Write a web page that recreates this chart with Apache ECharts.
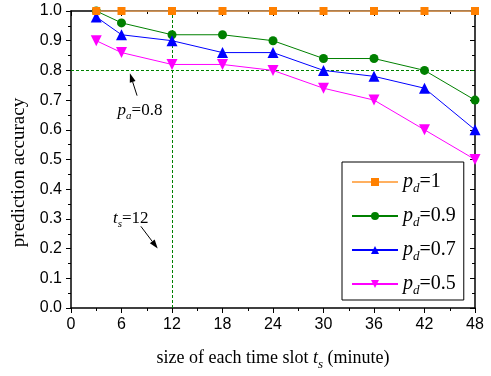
<!DOCTYPE html>
<html><head><meta charset="utf-8">
<script src="https://cdn.jsdelivr.net/npm/echarts@6/dist/echarts.min.js"></script>
<style>html,body{margin:0;padding:0;background:#fff}#c{width:491px;height:376px}</style>
</head><body><div id="c"></div>
<script>
const xValues = [3, 6, 12, 18, 24, 30, 36, 42, 48];
const pd1  = [1.0, 1.0, 1.0, 1.0, 1.0, 1.0, 1.0, 1.0, 1.0];
const pd09 = [1.0, 0.96, 0.92, 0.92, 0.90, 0.84, 0.84, 0.80, 0.70];
const pd07 = [0.98, 0.92, 0.90, 0.86, 0.86, 0.80, 0.78, 0.74, 0.60];
const pd05 = [0.90, 0.86, 0.82, 0.82, 0.80, 0.74, 0.70, 0.60, 0.50];
const seriesNames = ['1', '0.9', '0.7', '0.5'];
const xTicks = [0, 6, 12, 18, 24, 30, 36, 42, 48];
const yTicks = [0, 0.1, 0.2, 0.3, 0.4, 0.5, 0.6, 0.7, 0.8, 0.9, 1.0];
const paValue = 0.8, tsValue = 12;

const serif = '"Liberation Serif", "Times New Roman", serif';
const sans = '"Liberation Sans", Arial, sans-serif';
const pair = (ys) => xValues.map((x, i) => [x, ys[i]]);

const richP = {
  i: {fontFamily: serif, fontStyle: 'italic', fontSize: 20, color: '#000'},
  s: {fontFamily: serif, fontStyle: 'italic', fontSize: 13, color: '#000', padding: [13, 0, 0, 0]},
  n: {fontFamily: serif, fontSize: 20, color: '#000'}
};

const chart = echarts.init(document.getElementById('c'), null, {renderer: 'canvas'});
const axisLine = {show: true, onZero: false, lineStyle: {color: '#000', width: 1.5}};
const mk = (name, color, symbol, data, extra) => Object.assign({
  name: name, type: 'line', data: data, symbol: symbol, symbolSize: symbol === 'triangle' ? 11 : 9,
  showSymbol: true, color: color, lineStyle: {width: 1, color: color}, itemStyle: {color: color},
  z: 5, animation: false
}, extra || {});

const option = {
  animation: false,
  grid: {left: 71, right: 16, top: 11, bottom: 66, containLabel: false},
  legend: {
    data: seriesNames.map(n => 'p' + n),
    orient: 'vertical', left: 342, top: 162, width: 121,
    itemWidth: 46, itemHeight: 10, itemGap: 11,
    padding: [10, 8, 3, 9],
    borderColor: '#000', borderWidth: 1, backgroundColor: '#fff',
    formatter: (n) => '{i|p}{s|d}{n|=' + n.slice(1) + '}',
    textStyle: {rich: richP, padding: [0, 0, 0, 0]}
  },
  xAxis: [{
    type: 'value', min: 0, max: 48, interval: 6,
    axisLine: axisLine,
    axisTick: {show: true, length: 5, inside: false, lineStyle: {color: '#000'}},
    minorTick: {show: true, splitNumber: 2, length: 3, lineStyle: {color: '#000'}},
    splitLine: {show: false},
    axisLabel: {fontFamily: sans, fontSize: 16, color: '#000', margin: 9},
    name: '{a|size of each time slot }{i|t}{s|s}{a| (minute)}',
    nameLocation: 'middle', nameGap: 38,
    nameTextStyle: {rich: {
      a: {fontFamily: serif, fontSize: 18, color: '#000'},
      i: {fontFamily: serif, fontStyle: 'italic', fontSize: 18, color: '#000'},
      s: {fontFamily: serif, fontStyle: 'italic', fontSize: 13, color: '#000', padding: [12, 0, 0, 0]}
    }}
  }, {
    type: 'value', position: 'top', min: 0, max: 48, interval: 6,
    axisLine: axisLine,
    axisTick: {show: true, inside: true, length: 5, lineStyle: {color: '#000'}},
    minorTick: {show: true, splitNumber: 2, length: 3, lineStyle: {color: '#000'}},
    axisLabel: {show: false}, splitLine: {show: false}
  }],
  yAxis: [{
    type: 'value', min: 0, max: 1.0, interval: 0.1,
    axisLine: axisLine,
    axisTick: {show: true, length: 5, lineStyle: {color: '#000'}},
    minorTick: {show: true, splitNumber: 2, length: 3, lineStyle: {color: '#000'}},
    splitLine: {show: false},
    axisLabel: {fontFamily: sans, fontSize: 16, color: '#000', margin: 9, formatter: v => v.toFixed(1)},
    name: 'prediction accuracy', nameLocation: 'middle', nameGap: 38,
    nameTextStyle: {fontFamily: serif, fontSize: 19, color: '#000', padding: [0, 26, 0, 0]}
  }, {
    type: 'value', position: 'right', min: 0, max: 1.0, interval: 0.1,
    axisLine: axisLine,
    axisTick: {show: true, inside: true, length: 5, lineStyle: {color: '#000'}},
    minorTick: {show: true, splitNumber: 2, length: 3, lineStyle: {color: '#000'}},
    axisLabel: {show: false}, splitLine: {show: false}
  }],
  series: [
    mk('p1', '#FF8000', 'rect', pair(pd1), {z: 6, lineStyle: {width: 1.5, color: '#FFB060'}, symbolSize: 8}),
    mk('p0.9', '#008000', 'circle', pair(pd09), {
      markLine: {
        silent: true, symbol: 'none', label: {show: false}, z: 1,
        lineStyle: {type: [3, 2], color: '#008000', width: 1},
        data: [{xAxis: tsValue}, {yAxis: paValue}]
      }
    }),
    mk('p0.7', '#0000FF', 'triangle', pair(pd07)),
    mk('p0.5', '#FF00FF', 'triangle', pair(pd05), {symbolRotate: 180})
  ]
};
chart.setOption(option);

// annotations anchored in data coordinates
const px = (x, y) => chart.convertToPixel({xAxisIndex: 0, yAxisIndex: 0}, [x, y]);
function arrow(from, to) {
  const a = px(from[0], from[1]), b = px(to[0], to[1]);
  const ang = Math.atan2(b[1] - a[1], b[0] - a[0]);
  const L = 9, W = 3;
  const bx = b[0] - L * Math.cos(ang), by = b[1] - L * Math.sin(ang);
  const nx = -Math.sin(ang) * W, ny = Math.cos(ang) * W;
  return [
    {type: 'line', shape: {x1: a[0], y1: a[1], x2: bx, y2: by}, style: {stroke: '#000', lineWidth: 1}},
    {type: 'polygon', shape: {points: [[b[0], b[1]], [bx + nx, by + ny], [bx - nx, by - ny]]}, style: {fill: '#000'}}
  ];
}
const paPos = px(8.2, 0.665), tsPos = px(7.1, 0.30);
const annRich = {
  i: {fontFamily: serif, fontStyle: 'italic', fontSize: 17, fill: '#000'},
  s: {fontFamily: serif, fontStyle: 'italic', fontSize: 11, fill: '#000', padding: [11, 0, 0, 0]},
  n: {fontFamily: serif, fontSize: 17, fill: '#000'}
};
chart.setOption({graphic: [
  {type: 'text', x: paPos[0], y: paPos[1], style: {text: '{i|p}{s|a}{n|=' + paValue.toFixed(1) + '}', rich: annRich, align: 'center', verticalAlign: 'middle'}},
  {type: 'text', x: tsPos[0], y: tsPos[1], style: {text: '{i|t}{s|s}{n|=' + tsValue + '}', rich: annRich, align: 'center', verticalAlign: 'middle'}},
  ...arrow([7.85, 0.715], [7.0, 0.79]),
  ...arrow([8.3, 0.275], [10.3, 0.2])
]});
</script></body></html>
